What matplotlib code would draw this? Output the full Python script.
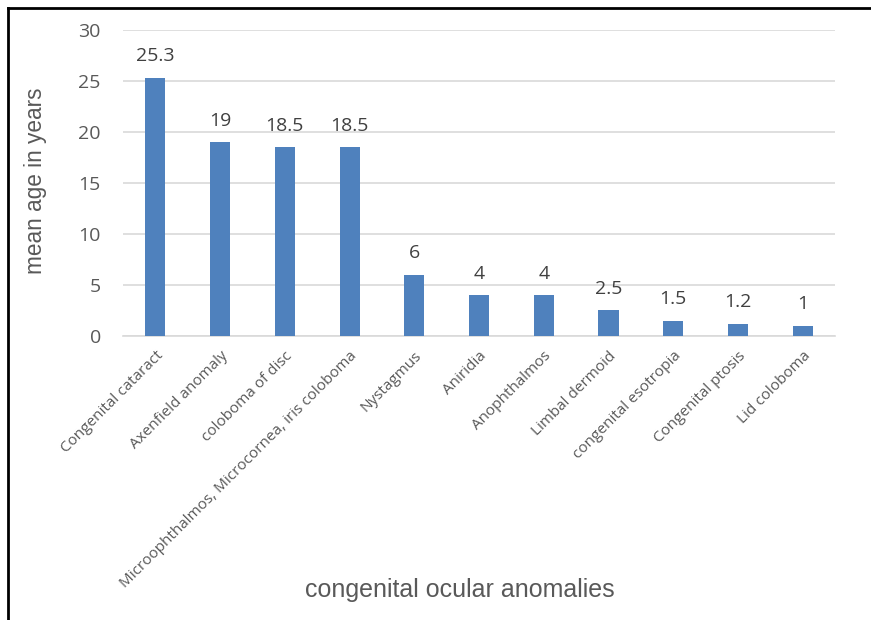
import matplotlib
matplotlib.use("Agg")
import matplotlib.pyplot as plt
from matplotlib.lines import Line2D

categories = ["Congenital cataract", "Axenfield anomaly", "coloboma of disc",
              "Microophthalmos, Microcornea, iris coloboma", "Nystagmus", "Aniridia",
              "Anophthalmos", "Limbal dermoid", "congenital esotropia",
              "Congenital ptosis", "Lid coloboma"]
values = [25.3, 19, 18.5, 18.5, 6, 4, 4, 2.5, 1.5, 1.2, 1]
labels = ["25.3", "19", "18.5", "18.5", "6", "4", "4", "2.5", "1.5", "1.2", "1"]
yticks = [0, 5, 10, 15, 20, 25, 30]

fig = plt.figure(figsize=(8.71, 6.2), dpi=100)
ax = fig.add_axes([0.1412, 0.4581, 0.8175, 0.4935])

x = list(range(len(categories)))
ax.bar(x, values, width=0.31, color="#4F81BD", zorder=3)
ax.set_xlim(-0.5, len(categories) - 0.5)
ax.set_ylim(0, 30)
ax.set_yticks(yticks)
ax.grid(axis="y", color="#D9D9D9", linewidth=1.2, zorder=0)
for s in ["top", "right", "left"]:
    ax.spines[s].set_visible(False)
ax.spines["bottom"].set_color("#D9D9D9")
ax.spines["bottom"].set_linewidth(1.2)
ax.tick_params(axis="both", length=0)
ax.tick_params(axis="y", labelsize=14, labelcolor="#595959", pad=16)
ax.set_yticklabels([str(t) for t in yticks], fontfamily="Open Sans")

ax.set_xticks(x)
ax.set_xticklabels(categories, rotation=45, ha="right", rotation_mode="anchor",
                   fontsize=11, color="#595959", fontfamily="Open Sans")
ax.tick_params(axis="x", pad=9)

for xi, v, lab in zip(x, values, labels):
    ax.annotate(lab, (xi, v), xytext=(0, 9), textcoords="offset points",
                ha="center", va="bottom", fontsize=14, color="#404040",
                fontfamily="Open Sans")

fig.text(0.041, 0.709, "mean age in years", rotation=90, ha="center", va="center",
         fontsize=16.3, color="#595959", fontfamily="Liberation Sans")
fig.text(0.528, 0.048, "congenital ocular anomalies", ha="center", va="center",
         fontsize=18, color="#595959", fontfamily="Liberation Sans")

# outer frame lines (top and left)
fig.add_artist(Line2D([0.0092, 1.0], [0.987, 0.987], transform=fig.transFigure,
                      color="black", linewidth=2))
fig.add_artist(Line2D([0.0092, 0.0092], [0.0, 0.987], transform=fig.transFigure,
                      color="black", linewidth=2))

fig.savefig("out.png", dpi=100, facecolor="white")
